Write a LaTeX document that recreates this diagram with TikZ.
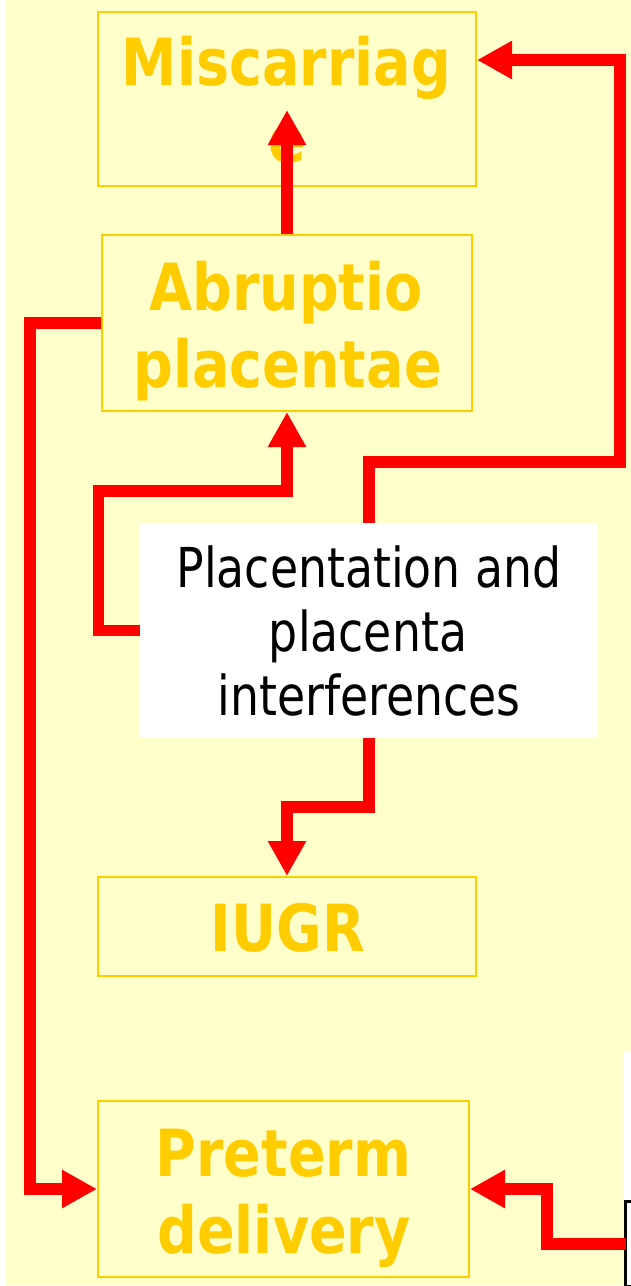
\documentclass[tikz,border=0pt]{standalone}
\usepackage{fontspec}
\usetikzlibrary{arrows.meta}
\newfontfamily\boxfont{DejaVu Sans Bold}[FakeStretch=0.855]
\newfontfamily\plfont{DejaVu Sans}[FakeStretch=0.832]
\definecolor{bgyel}{HTML}{FFFFCC}
\definecolor{gold}{HTML}{FFCC00}
\definecolor{rline}{HTML}{FF0000}
\tikzset{
  ybox/.style={draw=gold, line width=2pt, inner sep=0pt},
  btext/.style={text=gold, font=\boxfont\fontsize{65}{77}\selectfont, inner sep=0pt, anchor=base},
  ptext/.style={text=black, font=\plfont\fontsize{55}{64}\selectfont, inner sep=0pt, anchor=base},
  redarrow/.style={draw=rline, line width=11.5pt, -{Triangle[length=35pt,width=36pt]}}
}
\begin{document}
\begin{tikzpicture}[x=1pt,y=-1pt]
\useasboundingbox (0,0) rectangle (631,1286);
\fill[white] (0,0) rectangle (631,1286);
\fill[bgyel] (6,0) rectangle (631,1285);
\fill[white] (623,1051) rectangle (631,1286);

% boxes
\node[ybox, minimum width=378pt, minimum height=174pt] (mis) at (287,99) {};
\node[ybox, minimum width=370pt, minimum height=176pt] (abr) at (287,323) {};
\node[ybox, minimum width=378pt, minimum height=99pt] (iugr) at (287,926.5) {};
\node[ybox, minimum width=371pt, minimum height=176pt] (pre) at (283.5,1189) {};
\node[fill=white, inner sep=0pt, minimum width=458pt, minimum height=215pt] (plac) at (369,630.5) {};
\node[draw=black, fill=white, line width=3pt, inner sep=0pt, outer sep=0pt, minimum width=40pt, minimum height=85pt, anchor=north west] (bb) at (625.5,1201.5) {};

% texts
\node[btext] (misA) at (286.5,85) {Miscarriag};
\node[btext] (misB) at (287,162) {e};
\node[btext] (abrA) at (286,310) {Abruptio};
\node[btext] (abrB) at (287.5,387) {placentae};
\node[btext] (iugrA) at (288,951) {IUGR};
\node[btext] (preA) at (283.5,1176) {Preterm};
\node[btext] (preB) at (284,1253) {delivery};
\node[ptext] (placA) at (369,587) {Placentation and};
\node[ptext] (placB) at (368,651) {placenta};
\node[ptext] (placC) at (369,715) {interferences};

% named free ends
\coordinate (mtip) at (287,110);
\coordinate (misin) at ([yshift=39pt]mis.east);

% connectors
\draw[redarrow] (abr.north) -- (mtip);
\draw[redarrow] (plac.north) -- (369,462) -- (620,462) -- (620,60) -- (misin);
\draw[redarrow] (plac.west) -- (98.5,630.5) -- (98.5,491) -- (287,491) -- (abr.south);
\draw[redarrow] (plac.south) -- (369,807) -- (287,807) -- (iugr.north);
\draw[redarrow] (abr.west) -- (30,323) -- (30,1189) -- (pre.west);
\draw[redarrow] (bb.west) -- (547,1244) -- (547,1189) -- (pre.east);
\end{tikzpicture}
\end{document}
